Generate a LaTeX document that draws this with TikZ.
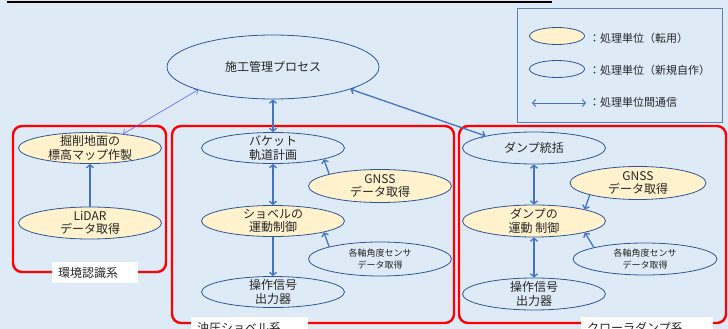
\documentclass[tikz,border=0pt]{standalone}
\usepackage{fontspec}
\setmainfont{Noto Sans CJK JP}
\usetikzlibrary{shapes.geometric,arrows.meta}
\definecolor{bg}{HTML}{DEEBF7}
\definecolor{edge}{HTML}{2F5597}
\definecolor{fillY}{HTML}{FFF2CC}
\definecolor{arr}{HTML}{4472C4}
\definecolor{thinarr}{HTML}{5A64F5}
\definecolor{txt}{HTML}{262626}
\definecolor{lgframe}{HTML}{5B7DB8}
\begin{document}
\begin{tikzpicture}[x=1pt,y=-1pt,
  >={Straight Barb[length=3pt,width=7pt]},
  unit/.style={ellipse, draw=edge, line width=0.8pt, minimum width=143pt, minimum height=31pt, inner sep=0pt},
  reuse/.style={unit, fill=fillY},
  lbl/.style={text=txt, align=center, font=\fontsize{12}{13.5}\selectfont, inner sep=0pt},
  small/.style={text=txt, align=center, font=\fontsize{9}{12.5}\selectfont, inner sep=0pt},
  lgtxt/.style={text=txt, font=\fontsize{11}{13}\selectfont, inner sep=0pt},
  link/.style={draw=arr, line width=1.3pt},
  group/.style={draw=red, line width=2.4pt, rounded corners=9pt},
  tag/.style={fill=white, text=txt, font=\fontsize{12}{13}\selectfont, inner sep=0pt, anchor=north west, minimum height=21pt, text width=#1, align=left, inner xsep=6pt}
]
\useasboundingbox (0,0) rectangle (728,329);
\fill[bg] (0,0) rectangle (728,329);
\draw[black, line width=2pt] (7,2) -- (552,2);

% legend
\draw[lgframe, line width=1pt] (517,9) rectangle (722,122);
\node[reuse, minimum width=55pt, minimum height=17pt] (lg1) at (557,36) {};
\node[lgtxt, anchor=west] (lt1) at (589,38) {：処理単位（転用）};
\node[unit, minimum width=55pt, minimum height=17pt] (lg2) at (557,69) {};
\node[lgtxt, anchor=west] (lt2) at (589,70) {：処理単位（新規自作）};
\coordinate (la) at (532,103);
\coordinate (lb) at (586,103);
\draw[link, line width=1pt, <->] (la) -- (lb);
\node[lgtxt, anchor=west] (lt3) at (589,102) {：処理単位間通信};

% groups
\draw[group] (13,126) rectangle (166,272);
\draw[group] (172,126) rectangle (454,323);
\draw[group] (459,126) rectangle (726,323);
\node[tag=74pt] (g1) at (52,262) {環境認識系};
\node[tag=105pt] (g2) at (191,317) {油圧ショベル系};
\node[tag=120pt] (g3) at (581,317) {クローラダンプ系};

% main
\node[unit, minimum width=212pt, minimum height=64pt] (main) at (273,67) {};
\node[lbl] (tmain) at (main) {施工管理プロセス};

% environment group
\node[reuse] (map) at (90,148) {};
\node[lbl] (tmap) at (map) {掘削地面の\\標高マップ作製};
\node[reuse, minimum height=32pt] (lidar) at (90,223) {};
\node[lbl] (tlidar) at (lidar) {LiDAR\\データ取得};

% shovel group
\node[unit] (bucket) at (273,148) {};
\node[lbl] (tbucket) at (bucket) {バケット\\軌道計画};
\node[reuse, minimum height=33pt] (gnss1) at (380,186) {};
\node[lbl] (tgnss1) at (gnss1) {GNSS\\データ取得};
\node[reuse] (shovel) at (273,221) {};
\node[lbl] (tshovel) at (shovel) {ショベルの\\運動制御};
\node[unit, minimum height=34pt] (sens1) at (380,259) {};
\node[small] (tsens1) at (sens1) {各軸角度センサ\\データ取得};
\node[unit] (out1) at (273,292) {};
\node[lbl] (tout1) at (out1) {操作信号\\出力器};

% dump group
\node[unit, minimum height=32pt] (dump) at (534,148) {};
\node[lbl] (tdump) at (dump) {ダンプ統括};
\node[reuse, minimum width=136pt, minimum height=33pt] (gnss2) at (638,183) {};
\node[lbl] (tgnss2) at (gnss2) {GNSS\\データ取得};
\node[reuse, minimum height=32pt] (dmove) at (534,221) {};
\node[lbl] (tdmove) at (dmove) {ダンプの\\運動 制御};
\node[unit, minimum width=144pt, minimum height=32pt] (sens2) at (645,259) {};
\node[small] (tsens2) at (sens2) {各軸角度センサ\\データ取得};
\node[unit, minimum height=32pt] (out2) at (534,294) {};
\node[lbl] (tout2) at (out2) {操作信号\\出力器};

% connectors
\draw[draw=thinarr, line width=0.6pt, <->] (main.197) -- (map.23);
\draw[link, <->] (main.south) -- (bucket.north);
\draw[link, <->] (main.-16) -- (dump.166);
\draw[link, ->] (lidar.north) -- (map.south);
\draw[link, <->] (bucket.south) -- (shovel.north);
\draw[link, ->] (shovel.south) -- (out1.north);
\draw[link, ->] (gnss1.north west) -- (bucket.south east);
\draw[link, ->] (sens1.north west) -- (shovel.south east);
\draw[link, <->] (dump.south) -- (dmove.north);
\draw[link, <->] (dmove.south) -- (out2.north);
\draw[link, ->] (gnss2.south west) -- (dmove.north east);
\draw[link, ->] (sens2.north west) -- (dmove.south east);
\end{tikzpicture}
\end{document}
